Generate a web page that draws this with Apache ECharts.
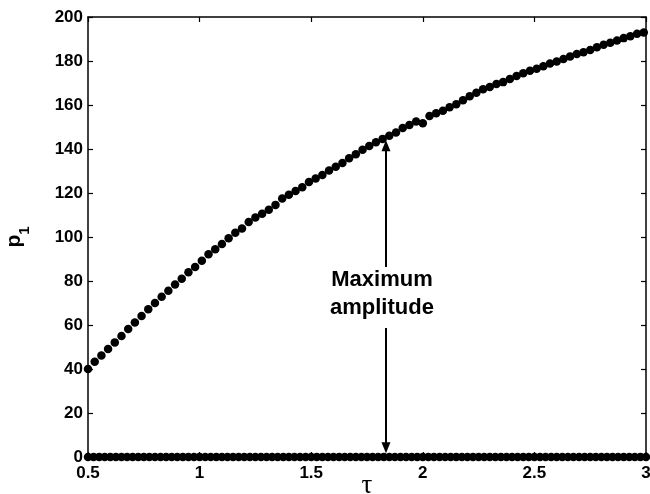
<!DOCTYPE html>
<html>
<head>
<meta charset="utf-8">
<script src="https://cdn.jsdelivr.net/npm/echarts@6/dist/echarts.min.js"></script>
<style>
html,body{margin:0;padding:0;background:#fff;}
#chart{width:650px;height:494px;}
</style>
</head>
<body>
<div id="chart"></div>
<script>
// Upper branch (tau, p1)
var tau = [0.5,0.53,0.56,0.59,0.62,0.65,0.68,0.71,0.74,0.77,0.8,0.83,0.86,0.89,0.92,0.95,0.98,1.01,1.04,1.07,1.1,1.13,1.16,1.19,1.22,1.25,1.28,1.31,1.34,1.37,1.4,1.43,1.46,1.49,1.52,1.55,1.58,1.61,1.64,1.67,1.7,1.73,1.76,1.79,1.82,1.85,1.88,1.91,1.94,1.97,2.0,2.03,2.06,2.09,2.12,2.15,2.18,2.21,2.24,2.27,2.3,2.33,2.36,2.39,2.42,2.45,2.48,2.51,2.54,2.57,2.6,2.63,2.66,2.69,2.72,2.75,2.78,2.81,2.84,2.87,2.9,2.93,2.96,2.99];
var p1 = [40,43.3,46.1,49.1,52.1,55.0,58.2,61.1,64.1,67.2,
  70.0,72.8,75.6,78.4,81.0,84.0,86.4,89.2,92.2,94.4,
  96.8,99.4,101.9,103.9,106.8,108.9,110.6,112.4,114.6,117.5,
  119.2,120.9,122.6,125.0,126.6,128.2,130.2,131.9,133.6,135.8,
  137.6,139.7,141.4,143.1,144.6,146.0,147.5,149.5,150.9,152.5,
  151.7,155.0,156.3,157.4,159.0,160.3,162.2,164.0,165.6,167.2,
  168.2,169.5,170.4,171.8,173.2,174.4,175.6,176.5,177.6,178.9,
  179.8,180.9,182.1,183.2,184.0,185.0,186.2,187.4,188.3,189.3,
  190.4,191.3,192.4,193.0];
// Lower (zero) branch
var tauZero = [0.5,0.525,0.55,0.575,0.6,0.625,0.65,0.675,0.7,0.725,0.75,0.775,0.8,0.825,0.85,0.875,0.9,0.925,0.95,0.975,1.0,1.025,1.05,1.075,1.1,1.125,1.15,1.175,1.2,1.225,1.25,1.275,1.3,1.325,1.35,1.375,1.4,1.425,1.45,1.475,1.5,1.525,1.55,1.575,1.6,1.625,1.65,1.675,1.7,1.725,1.75,1.775,1.8,1.825,1.85,1.875,1.9,1.925,1.95,1.975,2.0,2.025,2.05,2.075,2.1,2.125,2.15,2.175,2.2,2.225,2.25,2.275,2.3,2.325,2.35,2.375,2.4,2.425,2.45,2.475,2.5,2.525,2.55,2.575,2.6,2.625,2.65,2.675,2.7,2.725,2.75,2.775,2.8,2.825,2.85,2.875,2.9,2.925,2.95,2.975,3.0];
var pZero = [0,0,0,0,0,0,0,0,0,0,0,0,0,0,0,0,0,0,0,0,0,0,0,0,0,0,0,0,0,0,0,0,0,0,0,0,0,0,0,0,0,0,0,0,0,0,0,0,0,0,0,0,0,0,0,0,0,0,0,0,0,0,0,0,0,0,0,0,0,0,0,0,0,0,0,0,0,0,0,0,0,0,0,0,0,0,0,0,0,0,0,0,0,0,0,0,0,0,0,0,0];
// Annotation
var arrowTau = 1.835;
var arrowTop = 141.5;
var arrowTextTop = 86.4;
var arrowTextBottom = 58.6;
var arrowBottom = 4.2;
var labelTau = 1.817;
var labelP = 74.1;
var annotationText = 'Maximum\namplitude';

var xTicks = [0.5, 1, 1.5, 2, 2.5, 3];
var yTicks = [0, 20, 40, 60, 80, 100, 120, 140, 160, 180, 200];

function zip(a, b) { return a.map(function (v, i) { return [v, b[i]]; }); }

var chart = echarts.init(document.getElementById('chart'), null, {renderer: 'canvas'});
var FONT = 'Liberation Sans, Arial, sans-serif';
var axisCommon = {
  axisLine: {show: true, onZero: false, lineStyle: {color: '#000', width: 1.5}},
  axisTick: {show: true, inside: true, length: 5, lineStyle: {color: '#000', width: 1.2}},
  splitLine: {show: false}
};
var option = {
  backgroundColor: '#fff',
  animation: false,
  grid: {left: 88, right: 4, top: 17, bottom: 37, containLabel: false, outerBoundsMode: 'none'},
  xAxis: [
    Object.assign({}, axisCommon, {
      type: 'value', min: xTicks[0], max: xTicks[xTicks.length - 1], interval: 0.5, position: 'bottom',
      axisLabel: {color: '#000', fontSize: 17, fontWeight: 'bold', fontFamily: FONT, margin: 8},
      name: 'τ', nameLocation: 'middle', nameGap: 15, nameMoveOverlap: false,
      nameTextStyle: {color: '#000', fontSize: 27, fontFamily: 'Liberation Serif, DejaVu Serif, serif'}
    }),
    Object.assign({}, axisCommon, {
      type: 'value', min: xTicks[0], max: xTicks[xTicks.length - 1], interval: 0.5, position: 'top',
      axisLabel: {show: false}
    })
  ],
  yAxis: [
    Object.assign({}, axisCommon, {
      type: 'value', min: yTicks[0], max: yTicks[yTicks.length - 1], interval: 20, position: 'left',
      axisLabel: {color: '#000', fontSize: 17, fontWeight: 'bold', fontFamily: FONT, margin: 5},
      name: '{p|p}{s|1}', nameLocation: 'middle', nameGap: 56, nameRotate: 90, nameMoveOverlap: false,
      nameTextStyle: {
        color: '#000', fontFamily: FONT, fontWeight: 'bold',
        rich: {
          p: {fontSize: 21, fontWeight: 'bold', fontFamily: FONT, color: '#000', lineHeight: 20, verticalAlign: 'top'},
          s: {fontSize: 15, fontWeight: 'bold', fontFamily: FONT, color: '#000', lineHeight: 28, verticalAlign: 'bottom'}
        }
      }
    }),
    Object.assign({}, axisCommon, {
      type: 'value', min: yTicks[0], max: yTicks[yTicks.length - 1], interval: 20, position: 'right',
      axisLabel: {show: false}
    })
  ],
  series: [
    {
      type: 'scatter', data: zip(tauZero, pZero), symbol: 'circle', symbolSize: 8.5,
      itemStyle: {color: '#000', opacity: 1}, clip: false, silent: true
    },
    {
      type: 'scatter', data: zip(tau, p1), symbol: 'circle', symbolSize: 8.5,
      itemStyle: {color: '#000', opacity: 1}, clip: false, silent: true,
      markLine: {
        silent: true, animation: false,
        symbol: ['none', 'none'], symbolSize: [9, 11],
        lineStyle: {color: '#000', width: 2, type: 'solid', opacity: 1},
        label: {show: false},
        data: [
          [{coord: [arrowTau, arrowTop], symbol: 'triangle'}, {coord: [arrowTau, arrowTextTop], symbol: 'none'}],
          [{coord: [arrowTau, arrowTextBottom], symbol: 'none'}, {coord: [arrowTau, arrowBottom], symbol: 'triangle'}]
        ]
      },
      markPoint: {
        silent: true, animation: false,
        symbol: 'rect', symbolSize: 1, itemStyle: {color: 'rgba(0,0,0,0)'},
        label: {show: true, position: 'inside', formatter: annotationText, color: '#000',
          fontSize: 22, fontWeight: 'bold', fontFamily: FONT, lineHeight: 28, align: 'center'},
        data: [{coord: [labelTau, labelP]}]
      }
    }
  ]
};
chart.setOption(option);
</script>
</body>
</html>
